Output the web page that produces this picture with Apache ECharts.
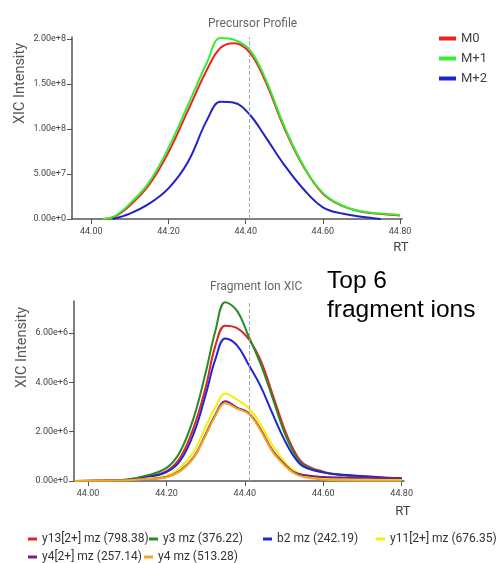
<!DOCTYPE html>
<html>
<head>
<meta charset="utf-8">
<script src="https://cdn.jsdelivr.net/npm/echarts@6/dist/echarts.min.js"></script>
<style>
  html, body { margin: 0; padding: 0; background: #fff; }
  #chart { width: 496px; height: 563px; }
</style>
</head>
<body>
<div id="chart"></div>
<script>
// precursor profile (top)
const rtPrecursor = [44.03, 44.06, 44.10, 44.15, 44.20, 44.25, 44.30, 44.335, 44.37, 44.41, 44.45, 44.50, 44.55, 44.60, 44.65, 44.70, 44.75, 44.80];
const m0 = [0, 2.5e6, 1.5e7, 3.8e7, 7.4e7, 1.2e8, 1.66e8, 1.9e8, 1.95e8, 1.85e8, 1.54e8, 1.01e8, 5.8e7, 2.8e7, 1.45e7, 8e6, 5.5e6, 4e6];
const m1 = [0, 3e6, 1.7e7, 4.1e7, 7.9e7, 1.26e8, 1.74e8, 2.01e8, 1.99e8, 1.88e8, 1.57e8, 1.03e8, 5.9e7, 2.9e7, 1.5e7, 8.5e6, 6e6, 4.5e6];
const rtM2 = [44.055, 44.10, 44.15, 44.20, 44.25, 44.30, 44.335, 44.37, 44.41, 44.45, 44.50, 44.55, 44.60, 44.65, 44.70, 44.75];
const m2 = [0, 6e6, 1.7e7, 3.4e7, 6.3e7, 1.1e8, 1.3e8, 1.29e8, 1.16e8, 9.2e7, 6e7, 3.3e7, 1.3e7, 6e6, 2.5e6, 0];

// fragment ion XIC (bottom)
const rtFragment = [43.965, 44.05, 44.10, 44.15, 44.20, 44.235, 44.27, 44.30, 44.325, 44.35, 44.38, 44.41, 44.44, 44.47, 44.50, 44.525, 44.55, 44.60, 44.65, 44.72, 44.80];
const y13 = [0, 2e4, 5e4, 1.8e5, 4e5, 9.5e5, 2.2e6, 3.8e6, 5.5e6, 6.3e6, 6.2e6, 5.75e6, 4.9e6, 3.55e6, 2.15e6, 1.25e6, 7e5, 3.8e5, 2.4e5, 1.6e5, 8e4];
const y3 = [0, 2e4, 6e4, 2.2e5, 5.3e5, 1.2e6, 2.6e6, 4.4e6, 6.1e6, 7.25e6, 6.9e6, 5.85e6, 4.75e6, 3.4e6, 2.0e6, 1.15e6, 6.5e5, 3.5e5, 2.3e5, 1.5e5, 8e4];
const b2 = [0, 1.5e4, 4e4, 1.5e5, 3.6e5, 8.2e5, 1.95e6, 3.5e6, 4.95e6, 5.78e6, 5.5e6, 4.7e6, 3.85e6, 2.75e6, 1.7e6, 1.0e6, 5.8e5, 3.5e5, 2.5e5, 1.8e5, 1e5];
const y11 = [0, 1e4, 3e4, 1e5, 2e5, 5.5e5, 1.2e6, 2.2e6, 3.0e6, 3.55e6, 3.3e6, 2.95e6, 2.3e6, 1.45e6, 8e5, 4.2e5, 2.3e5, 1e5, 7e4, 5e4, 4e4];
const y4_2 = [0, 1e4, 3e4, 8e4, 1.6e5, 4.2e5, 9.8e5, 1.9e6, 2.7e6, 3.23e6, 2.98e6, 2.75e6, 2.1e6, 1.25e6, 7e5, 3.6e5, 2.4e5, 1.6e5, 1.4e5, 1.3e5, 1.2e5];
const y4 = [0, 1e4, 3e4, 8e4, 1.5e5, 4e5, 9.5e5, 1.85e6, 2.65e6, 3.15e6, 2.93e6, 2.72e6, 2.05e6, 1.2e6, 6.5e5, 3.2e5, 1.6e5, 6e4, 3e4, 2e4, 2e4];

const rtTicks = [44.0, 44.2, 44.4, 44.6, 44.8];
const precursorTicks = [0, 5e7, 1e8, 1.5e8, 2e8];
const fragmentTicks = [0, 2e6, 4e6, 6e6];
const selectedRT = 44.413;

const precursorNames = ['M0', 'M+1', 'M+2'];
const fragmentNames = ['y13[2+] mz (798.38)', 'y3 mz (376.22)', 'b2 mz (242.19)', 'y11[2+] mz (676.35)', 'y4[2+] mz (257.14)', 'y4 mz (513.28)'];

const axisColor = '#555';
const zip = (xs, ys) => xs.map((x, i) => [x, ys[i]]);

function xAxisFor(gridIndex, min, max, nameGapTop) {
    return {
        type: 'value', gridIndex, min, max,
        name: 'RT', nameLocation: 'end', nameGap: -1,
        nameTextStyle: { align: 'center', verticalAlign: 'top', padding: [nameGapTop, 0, 0, 0], fontSize: 13, color: '#444', fontFamily: 'Roboto' },
        axisLine: { onZero: false, lineStyle: { color: axisColor, width: 1.5 } },
        axisTick: { show: true, length: 5, customValues: rtTicks, lineStyle: { color: axisColor } },
        axisLabel: { customValues: rtTicks, fontSize: 9, color: '#444', margin: 8, formatter: v => v.toFixed(2) },
        splitLine: { show: false }
    };
}

function yAxisFor(gridIndex, max, ticks, gap) {
    return {
        type: 'value', gridIndex, min: 0, max,
        name: 'XIC Intensity', nameLocation: 'end', nameRotate: 90, nameGap: gap,
        nameTextStyle: { align: 'right', verticalAlign: 'bottom', padding: [0, 0, 44, 0], fontSize: 14.5, color: '#555', fontFamily: 'Roboto' },
        axisLine: { show: true, lineStyle: { color: axisColor, width: 1.5 } },
        axisTick: { show: true, length: 5, customValues: ticks, lineStyle: { color: axisColor } },
        axisLabel: { customValues: ticks, fontSize: 9, color: '#444', margin: 6, formatter: v => v.toExponential(2) },
        splitLine: { show: false }
    };
}

const dashed = {
    silent: true, symbol: 'none', animation: false,
    label: { show: false },
    lineStyle: { color: '#aaa', type: 'dashed', width: 1 },
    data: [{ xAxis: selectedRT }]
};

function lineSeries(name, data, color, axisIndex, withMark) {
    const s = {
        name, type: 'line', data, smooth: 0.4, showSymbol: false, symbol: 'none',
        xAxisIndex: axisIndex, yAxisIndex: axisIndex,
        itemStyle: { color }, lineStyle: { color, width: 2 }
    };
    if (withMark) s.markLine = dashed;
    return s;
}

const fragmentColors = ['#e02424', '#2a8a2a', '#2424d4', '#f2f200', '#7a1f8a', '#f5a623'];
const fragmentValues = [y13, y3, b2, y11, y4_2, y4];
// legend spots [left, top] of the bottom legend items
const fragmentLegendSpots = [[23, 528], [144, 528], [258, 528], [371, 528], [23, 546], [139, 546]];

const option = {
    animation: false,
    backgroundColor: '#fff',
    textStyle: { fontFamily: 'Roboto' },
    title: [
        { text: 'Precursor Profile', left: 203, top: 13, textStyle: { fontSize: 12, fontWeight: 'normal', color: '#666' } },
        { text: 'Fragment Ion XIC', left: 205, top: 276, textStyle: { fontSize: 12, fontWeight: 'normal', color: '#666' } },
        { text: 'Top 6\nfragment ions', left: 322, top: 262, textStyle: { fontSize: 24.5, lineHeight: 29, fontWeight: 'normal', color: '#000', fontFamily: 'Liberation Sans' } }
    ],
    legend: [
        {
            data: precursorNames, orient: 'vertical', left: 434, top: 27,
            icon: 'rect', itemWidth: 17, itemHeight: 4, itemGap: 7,
            textStyle: { fontSize: 13, color: '#444' }
        },
        ...fragmentNames.map((n, i) => ({
            data: [n], left: fragmentLegendSpots[i][0], top: fragmentLegendSpots[i][1],
            icon: 'rect', itemWidth: 9, itemHeight: 3,
            textStyle: { fontSize: 12, color: '#333' }
        }))
    ],
    grid: [
        { left: 72, right: 94, top: 37, height: 182 },
        { left: 74, right: 92, top: 301, height: 180 }
    ],
    xAxis: [xAxisFor(0, 43.95, 44.805, 22), xAxisFor(1, 43.964, 44.806, 24)],
    yAxis: [yAxisFor(0, 2.02e8, precursorTicks, -6), yAxisFor(1, 7.3e6, fragmentTicks, -6)],
    series: [
        lineSeries('M0', zip(rtPrecursor, m0), '#ee2222', 0, true),
        lineSeries('M+1', zip(rtPrecursor, m1), '#33ee33', 0, false),
        lineSeries('M+2', zip(rtM2, m2), '#2222cc', 0, false),
        ...fragmentNames.map((n, i) => lineSeries(n, zip(rtFragment, fragmentValues[i]), fragmentColors[i], 1, i === 0))
    ]
};

const chart = echarts.init(document.getElementById('chart'));
chart.setOption(option);
</script>
</body>
</html>
